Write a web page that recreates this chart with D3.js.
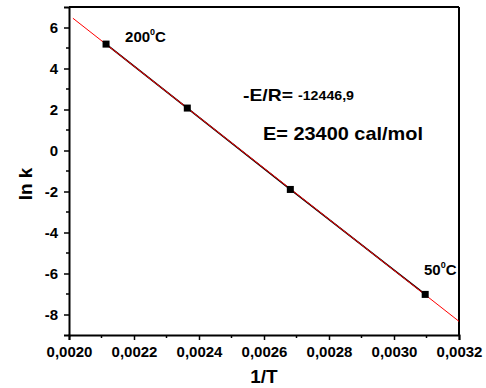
<!DOCTYPE html>
<html>
<head>
<meta charset="utf-8">
<script src="https://cdn.jsdelivr.net/npm/d3@7"></script>
<style>
  body { margin: 0; background: #fff; }
  text { font-family: Arial, "Liberation Sans", sans-serif; font-weight: bold; }
</style>
</head>
<body>
<div id="chart"></div>
<script>
// measured points: 1/T vs ln k
const invT = [0.002114, 0.002364, 0.002681, 0.003096];
const lnK = [5.19, 2.07, -1.90, -7.02];
const tempLabels = ["200", "50"];
const xTicks = [0.0020, 0.0022, 0.0024, 0.0026, 0.0028, 0.0030, 0.0032];
const yTicks = [-8, -6, -4, -2, 0, 2, 4, 6];
const slope = -12446.9;
const fitRange = [0.002012, 0.0032];

const margin = {top: 7, right: 27, bottom: 53, left: 69},
    width = 486 - margin.left - margin.right,
    height = 388 - margin.top - margin.bottom;

const svg = d3.select("#chart")
    .append("svg")
    .attr("width", 486)
    .attr("height", 388);

const g = svg.append("g")
    .attr("transform", `translate(${margin.left},${margin.top})`);

const x = d3.scaleLinear().domain([0.0020, 0.0032]).range([0, width]);
const y = d3.scaleLinear().domain([-9, 7]).range([height, 0]);

// intercept from the mean of the points
const mx = d3.mean(invT), my = d3.mean(lnK);
const intercept = my - slope * mx;

const fmt = d => d3.format(".4f")(d).replace(".", ",");

// minor ticks
const xMinor = d3.range(0.0021, 0.0032, 0.0002);
const yMinor = d3.range(-7, 7, 2);

g.selectAll(".xminor").data(xMinor).join("line")
    .attr("x1", d => x(d)).attr("x2", d => x(d))
    .attr("y1", height).attr("y2", height + 3)
    .attr("stroke", "black").attr("stroke-width", 1.5);
g.selectAll(".yminor").data(yMinor).join("line")
    .attr("y1", d => y(d)).attr("y2", d => y(d))
    .attr("x1", 0).attr("x2", -3)
    .attr("stroke", "black").attr("stroke-width", 1.5);

const xAxis = g.append("g")
    .attr("transform", `translate(0,${height})`)
    .call(d3.axisBottom(x).tickValues(xTicks).tickFormat(fmt).tickSize(5).tickPadding(6));
const yAxis = g.append("g")
    .call(d3.axisLeft(y).tickValues(yTicks).tickFormat(d => String(d)).tickSize(5).tickPadding(6));

[xAxis, yAxis].forEach(a => {
    a.attr("font-size", null).attr("font-family", null);
    a.selectAll("path").attr("stroke-width", 2);
    a.selectAll("line").attr("stroke-width", 1.5);
    a.selectAll("text").attr("fill", "black")
        .style("font-size", "15px")
        .style("font-family", "Arial, 'Liberation Sans', sans-serif").style("font-weight", "bold");
});

// top and right frame
g.append("line").attr("x1", 0).attr("x2", width).attr("y1", 0).attr("y2", 0)
    .attr("stroke", "black").attr("stroke-width", 2);
g.append("line").attr("x1", width).attr("x2", width).attr("y1", 0).attr("y2", height)
    .attr("stroke", "black").attr("stroke-width", 2);

// data line (black) then linear fit (red)
const line = d3.line().x(d => x(d[0])).y(d => y(d[1]));
g.append("path")
    .datum(d3.zip(invT, lnK))
    .attr("d", line)
    .attr("fill", "none")
    .attr("stroke", "black")
    .attr("stroke-width", 1.6);

g.append("path")
    .datum(fitRange.map(v => [v, intercept + slope * v]))
    .attr("d", line)
    .attr("fill", "none")
    .attr("stroke", "red")
    .attr("stroke-width", 1);

g.selectAll(".pt").data(d3.zip(invT, lnK)).join("rect")
    .attr("x", d => x(d[0]) - 3.5)
    .attr("y", d => y(d[1]) - 3.5)
    .attr("width", 7).attr("height", 7)
    .attr("fill", "black");

// temperature labels
function tempLabel(px, py, t) {
    const tx = g.append("text").attr("x", px).attr("y", py).style("font-size", "15px").attr("fill", "black");
    tx.append("tspan").text(t);
    tx.append("tspan").style("font-size", "9px").attr("dy", -7).text("0");
    tx.append("tspan").attr("dy", 7).text("C");
}
tempLabel(x(0.002114) + 19, y(5.19) - 2, tempLabels[0]);
tempLabel(x(0.0030) + 30, y(-6.0) + 1, tempLabels[1]);

g.append("text").attr("x", 174).attr("y", 94)
    .style("font-size", "17px").attr("fill", "black")
    .attr("textLength", 50).attr("lengthAdjust", "spacingAndGlyphs")
    .text("-E/R=");
g.append("text").attr("x", 229).attr("y", 93)
    .style("font-size", "12px").attr("fill", "black")
    .attr("textLength", 56).attr("lengthAdjust", "spacingAndGlyphs")
    .text("-12446,9");

g.append("text").attr("x", 194).attr("y", 133)
    .style("font-size", "19px").attr("fill", "black")
    .attr("textLength", 160).attr("lengthAdjust", "spacingAndGlyphs")
    .text("E= 23400 cal/mol");

// axis titles
svg.append("text")
    .attr("x", margin.left + width / 2)
    .attr("y", 383)
    .attr("text-anchor", "middle")
    .style("font-size", "19px")
    .text("1/T");

svg.append("text")
    .attr("transform", `translate(32,184) rotate(-90)`)
    .attr("text-anchor", "middle")
    .style("font-size", "19px")
    .text("ln k");
</script>
</body>
</html>
